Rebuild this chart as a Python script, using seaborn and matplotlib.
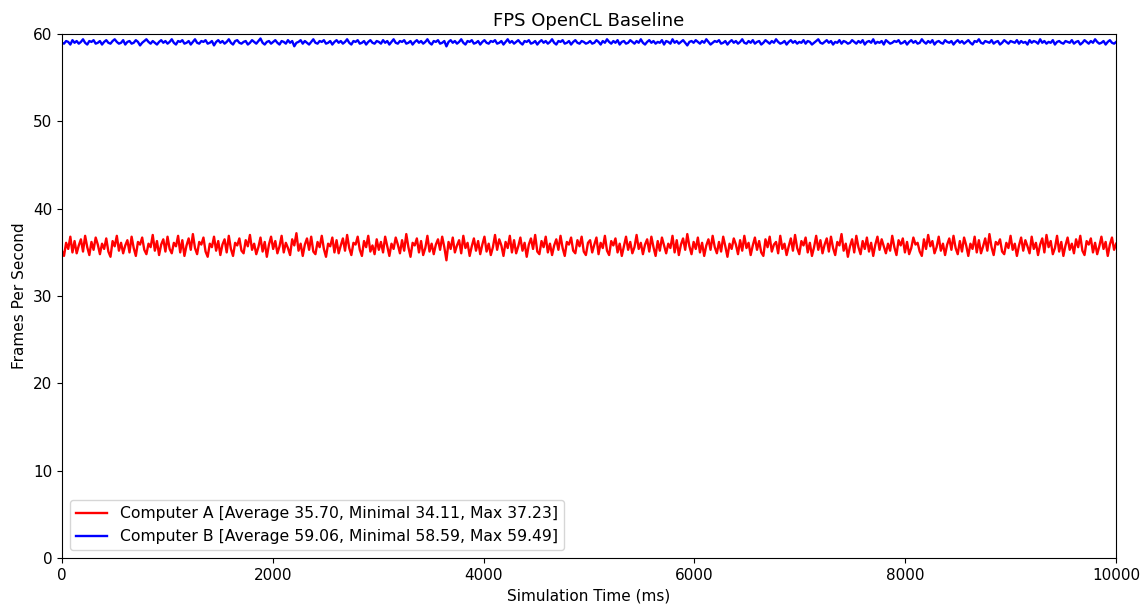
import numpy as np
import pandas as pd
import matplotlib
matplotlib.use('agg')
import matplotlib.pyplot as plt
import seaborn as sns

# FPS samples (approximate, 500 samples over 10 s)
fps_a = [
    35.2, 34.6, 36.1, 35.4, 36.8, 35.0, 36.3, 34.9, 35.8, 36.5, 35.1, 36.9, 35.6, 34.7, 36.2, 35.3, 36.7, 35.9, 34.8, 36.0, 35.4, 36.6, 35.1, 34.5, 36.3,
    35.7, 36.9, 35.2, 36.1, 34.9, 35.8, 36.4, 35.0, 36.8, 35.5, 34.6, 36.2, 35.9, 36.7, 35.3, 34.8, 36.0, 35.6, 37.0, 35.2, 36.3, 34.7, 35.9, 36.5, 35.1,
    36.8, 35.4, 34.9, 36.1, 35.7, 36.9, 35.0, 36.4, 34.6, 35.8, 36.6, 35.3, 37.1, 35.5, 34.8, 36.2, 35.9, 36.7, 35.1, 34.5, 36.0, 35.6, 36.8, 35.2, 36.3,
    34.7, 35.9, 36.5, 35.0, 36.9, 35.4, 34.6, 36.1, 35.8, 36.6, 35.2, 34.9, 36.4, 35.7, 37.0, 35.3, 36.0, 34.8, 35.6, 36.7, 35.1, 36.2, 34.5, 35.9, 36.8,
    35.4, 36.3, 34.9, 35.7, 36.9, 35.0, 36.1, 35.5, 34.7, 36.5, 35.8, 37.2, 35.2, 36.0, 34.6, 35.9, 36.6, 35.3, 36.8, 35.1, 34.8, 36.2, 35.6, 36.9, 35.4,
    34.5, 36.0, 35.7, 36.7, 35.0, 36.4, 34.9, 35.8, 36.6, 35.2, 37.0, 35.5, 34.7, 36.1, 35.9, 36.8, 35.3, 34.6, 36.3, 35.6, 36.9, 35.1, 35.8, 34.8, 36.5,
    35.3, 36.2, 35.0, 36.8, 35.7, 34.6, 36.0, 35.4, 36.7, 35.9, 34.9, 36.4, 35.2, 37.1, 35.6, 34.5, 36.1, 35.8, 36.6, 35.0, 36.3, 34.7, 35.5, 36.9, 35.1,
    36.0, 34.8, 35.9, 36.5, 35.3, 36.8, 35.6, 34.1, 36.2, 35.4, 36.7, 35.0, 35.8, 36.4, 34.9, 36.9, 35.5, 36.1, 34.6, 35.7, 36.6, 35.2, 36.3, 34.8, 35.9,
    36.8, 35.1, 36.0, 34.7, 35.6, 37.0, 35.3, 36.5, 35.8, 34.6, 36.2, 35.5, 36.9, 35.0, 36.4, 34.9, 35.7, 36.7, 35.2, 36.1, 34.5, 35.9, 36.6, 35.4, 37.0,
    35.1, 34.8, 36.3, 35.6, 36.8, 35.0, 36.0, 34.7, 35.8, 36.5, 35.3, 36.9, 35.5, 34.6, 36.2, 35.9, 36.7, 35.2, 34.9, 36.4, 35.7, 36.8, 35.1, 34.7, 36.1,
    36.4, 35.0, 35.9, 36.7, 34.8, 36.1, 35.5, 36.9, 35.2, 34.7, 36.3, 35.8, 36.6, 35.0, 36.0, 34.6, 35.7, 36.8, 35.3, 36.2, 34.9, 35.6, 37.0, 35.4, 36.1,
    34.8, 35.9, 36.5, 35.1, 36.8, 35.6, 34.6, 36.3, 35.2, 36.7, 35.8, 34.9, 36.0, 35.5, 36.9, 35.0, 36.4, 34.7, 35.9, 36.6, 35.3, 37.1, 35.7, 34.8, 36.2,
    35.4, 36.7, 35.0, 36.1, 34.6, 35.8, 36.5, 35.3, 36.9, 35.6, 34.9, 36.2, 35.1, 36.8, 35.7, 34.5, 36.0, 35.4, 36.6, 35.9, 34.8, 36.4, 35.2, 36.9, 35.5,
    36.1, 34.7, 35.8, 36.7, 35.3, 36.3, 35.0, 34.6, 36.5, 35.6, 36.8, 35.1, 35.9, 36.2, 34.9, 36.9, 35.4, 36.0, 34.7, 35.7, 36.6, 35.2, 37.0, 35.5, 34.8,
    36.3, 35.8, 36.7, 35.0, 36.1, 34.6, 35.6, 36.9, 35.3, 36.4, 34.9, 35.9, 36.6, 35.1, 36.8, 35.5, 34.7, 36.2, 35.8, 37.1, 35.2, 36.0, 34.5, 35.7, 36.5,
    35.0, 36.9, 35.6, 34.8, 36.3, 35.4, 36.7, 35.1, 36.1, 34.6, 35.9, 36.8, 35.3, 36.5, 35.7, 34.9, 36.0, 35.2, 36.9, 35.6, 34.7, 36.4, 35.8, 36.6, 35.0,
    36.2, 34.8, 35.5, 36.7, 35.9, 36.1, 35.1, 34.6, 36.5, 35.4, 37.0, 35.7, 36.3, 34.9, 35.6, 36.8, 35.2, 36.0, 34.7, 35.9, 36.6, 35.3, 36.9, 35.5, 34.8,
    36.3, 35.1, 36.7, 35.8, 34.6, 36.0, 35.4, 36.8, 35.0, 36.4, 34.9, 35.7, 36.6, 35.2, 37.1, 35.6, 34.7, 36.2, 35.9, 36.5, 35.1, 34.8, 36.1, 35.5, 36.9,
    35.3, 36.0, 34.6, 35.8, 36.7, 35.2, 36.4, 35.7, 34.9, 36.8, 35.4, 36.1, 34.7, 35.9, 36.6, 35.0, 37.0, 35.6, 36.3, 34.8, 35.5, 36.9, 35.1, 36.2, 34.6,
    35.8, 36.7, 35.3, 36.0, 34.9, 36.5, 35.6, 36.9, 35.2, 34.7, 36.3, 35.9, 36.6, 35.0, 36.1, 34.8, 35.7, 36.8, 35.4, 36.2, 34.6, 35.9, 36.7, 35.3, 36.0,
]
fps_b = [
    59.0, 58.9, 59.2, 59.1, 58.8, 59.3, 59.0, 59.2, 58.9, 59.1, 59.4, 59.0, 58.8, 59.2, 59.1, 59.3, 58.9, 59.0, 59.2, 58.8, 59.1, 59.3, 59.0, 58.9, 59.2,
    59.4, 59.1, 58.9, 59.0, 59.3, 58.8, 59.1, 59.2, 58.9, 59.0, 59.3, 59.1, 58.7, 59.0, 59.2, 59.4, 59.1, 58.9, 59.2, 59.0, 58.8, 59.1, 59.3, 59.0, 59.2,
    58.9, 59.1, 59.4, 59.0, 58.8, 59.2, 59.1, 59.3, 58.9, 59.0, 59.2, 58.8, 59.1, 59.4, 59.0, 58.9, 59.2, 59.1, 59.3, 58.9, 59.0, 59.2, 58.7, 59.1, 59.3,
    59.0, 59.2, 58.9, 59.1, 59.4, 59.0, 58.8, 59.2, 59.3, 59.0, 58.9, 59.1, 59.2, 58.8, 59.0, 59.3, 59.1, 58.9, 59.2, 59.49, 59.0, 58.8, 59.1, 59.2, 58.9,
    59.1, 59.3, 59.0, 58.8, 59.2, 59.1, 58.9, 59.3, 59.0, 59.2, 58.6, 59.0, 59.1, 59.3, 58.9, 59.2, 59.0, 58.8, 59.1, 59.4, 59.0, 58.9, 59.2, 59.1, 59.3,
    58.9, 59.0, 59.2, 58.8, 59.1, 59.3, 59.0, 59.2, 58.9, 59.1, 59.4, 59.0, 58.8, 59.2, 59.1, 59.3, 58.9, 59.0, 59.2, 58.8, 59.1, 59.3, 59.0, 58.9, 59.2,
    59.1, 58.9, 59.3, 59.0, 59.2, 58.8, 59.1, 59.4, 59.0, 58.9, 59.2, 59.1, 59.3, 58.9, 59.0, 59.2, 58.8, 59.1, 59.3, 59.0, 59.2, 58.9, 59.1, 59.4, 59.0,
    58.8, 59.2, 59.1, 59.3, 58.9, 59.0, 59.2, 58.59, 59.1, 59.3, 59.0, 59.2, 58.9, 59.1, 59.4, 59.0, 58.8, 59.2, 59.1, 59.3, 58.9, 59.0, 59.2, 58.8, 59.1,
    59.3, 59.0, 58.9, 59.2, 59.1, 59.3, 58.9, 59.0, 59.2, 58.8, 59.1, 59.4, 59.0, 59.2, 58.9, 59.1, 59.3, 59.0, 58.8, 59.2, 59.1, 59.3, 58.9, 59.0, 59.2,
    58.8, 59.1, 59.3, 59.0, 59.2, 58.9, 59.1, 59.4, 59.0, 58.8, 59.2, 59.1, 59.3, 58.9, 59.0, 59.2, 58.8, 59.1, 59.3, 59.0, 58.9, 59.2, 59.1, 58.9, 59.0,
    59.2, 58.9, 59.0, 59.3, 59.1, 58.8, 59.2, 59.0, 59.4, 59.1, 58.9, 59.2, 59.0, 59.3, 58.8, 59.1, 59.2, 58.9, 59.0, 59.3, 59.1, 58.9, 59.2, 59.0, 59.4,
    59.0, 58.8, 59.1, 59.3, 59.0, 59.2, 58.9, 59.1, 59.0, 59.3, 58.8, 59.2, 59.1, 58.9, 59.4, 59.0, 59.2, 58.9, 59.1, 59.3, 59.0, 58.7, 59.1, 59.2, 59.0,
    59.3, 59.1, 58.9, 59.2, 59.0, 59.4, 59.1, 58.8, 59.0, 59.2, 59.1, 59.3, 58.9, 59.0, 59.2, 58.8, 59.1, 59.3, 59.0, 59.2, 58.9, 59.1, 59.4, 59.0, 58.9,
    59.2, 59.0, 59.3, 58.9, 59.1, 59.2, 58.8, 59.0, 59.3, 59.1, 58.9, 59.2, 59.0, 59.4, 59.1, 58.9, 59.0, 59.2, 58.8, 59.1, 59.3, 59.0, 59.2, 58.9, 59.1,
    59.0, 59.3, 58.9, 59.2, 59.1, 58.8, 59.0, 59.2, 59.4, 59.0, 58.9, 59.1, 59.3, 59.0, 59.2, 58.8, 59.1, 59.0, 59.3, 58.9, 59.2, 59.1, 58.9, 59.0, 59.3,
    59.1, 58.9, 59.2, 59.0, 59.3, 58.8, 59.1, 59.2, 59.0, 59.4, 58.9, 59.1, 59.0, 59.2, 58.8, 59.3, 59.1, 58.9, 59.0, 59.2, 59.1, 59.3, 58.9, 59.0, 59.2,
    58.8, 59.1, 59.3, 59.0, 59.2, 58.9, 59.0, 59.4, 59.1, 58.9, 59.2, 59.0, 59.3, 58.8, 59.1, 59.2, 59.0, 58.9, 59.3, 59.1, 59.0, 59.2, 58.8, 59.1, 59.3,
    59.0, 59.2, 58.9, 59.1, 59.3, 59.0, 58.8, 59.2, 59.1, 59.4, 59.0, 58.9, 59.2, 59.1, 59.0, 59.3, 58.9, 59.1, 59.2, 58.8, 59.0, 59.3, 59.1, 58.9, 59.2,
    59.1, 59.0, 59.3, 58.9, 59.2, 59.0, 59.1, 58.8, 59.3, 59.0, 59.2, 59.1, 58.9, 59.4, 59.0, 59.2, 58.9, 59.1, 59.0, 59.3, 58.8, 59.1, 59.2, 59.0, 58.9,
    59.2, 59.1, 59.0, 59.3, 58.9, 59.1, 59.2, 58.8, 59.0, 59.3, 59.1, 58.9, 59.2, 59.0, 59.4, 59.1, 58.9, 59.0, 59.2, 58.8, 59.1, 59.3, 59.0, 58.9, 59.1,
]
sim_end_ms = 10000

labels = [
    'Computer A [Average 35.70, Minimal 34.11, Max 37.23]',
    'Computer B [Average 59.06, Minimal 58.59, Max 59.49]',
]
colors = ['red', 'blue']

time_a = np.linspace(0, sim_end_ms, len(fps_a))
time_b = np.linspace(0, sim_end_ms, len(fps_b))
df = pd.concat([
    pd.DataFrame({'time': time_a, 'fps': fps_a, 'computer': labels[0]}),
    pd.DataFrame({'time': time_b, 'fps': fps_b, 'computer': labels[1]}),
])

fig, ax = plt.subplots(figsize=(11.46, 6.08), dpi=100)
sns.lineplot(data=df, x='time', y='fps', hue='computer',
             palette=dict(zip(labels, colors)), linewidth=1.7, ax=ax)

ax.set_xlim(0, sim_end_ms)
ax.set_ylim(0, 60)
ax.set_title('FPS OpenCL Baseline', fontsize=13)
ax.set_xlabel('Simulation Time (ms)', fontsize=11)
ax.set_ylabel('Frames Per Second', fontsize=11)
ax.tick_params(labelsize=11)
ax.legend(loc='lower left', fontsize=11.25, title=None)

plt.subplots_adjust(left=0.054, right=0.974, top=0.944, bottom=0.082)
plt.savefig('out.png', dpi=100)
plt.close()
